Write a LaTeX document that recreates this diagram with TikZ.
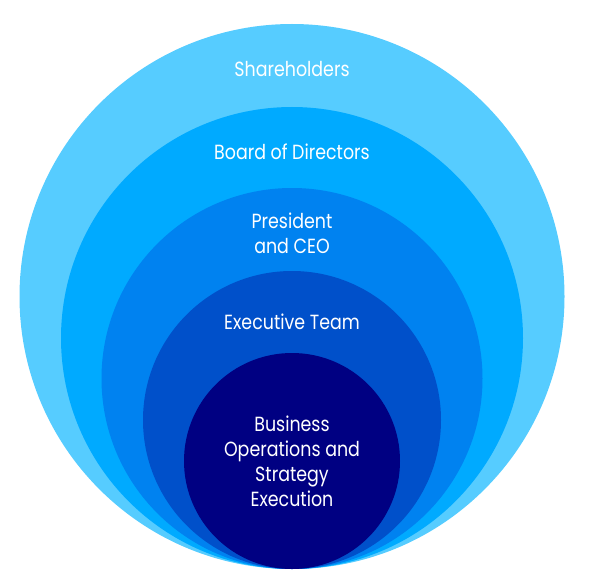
\documentclass[tikz,border=0pt]{standalone}
\usepackage{fontspec}
\setmainfont{Poppins}[FakeStretch=0.85]
\definecolor{ringA}{RGB}{86,204,255}
\definecolor{ringB}{RGB}{0,170,255}
\definecolor{ringC}{RGB}{0,130,240}
\definecolor{ringD}{RGB}{0,80,202}
\definecolor{ringE}{RGB}{0,0,130}
\begin{document}
\begin{tikzpicture}[x=1pt,y=-1pt,
  ring/.style={circle,inner sep=0pt,draw=none,minimum size=#1},
  lbl/.style={text=white,align=center,font=\fontsize{20.5}{25}\selectfont,anchor=base,inner sep=0pt}]
\useasboundingbox (0,0) rectangle (589,583);
\node[ring=545pt,fill=ringA] (shareholders) at (292,296.5) {};
\node[ring=462pt,fill=ringB] (board) at (292,338) {};
\node[ring=381pt,fill=ringC] (ceo) at (292,378.5) {};
\node[ring=298pt,fill=ringD] (team) at (292,420) {};
\node[ring=216pt,fill=ringE] (ops) at (292,461) {};
\node[lbl] (tA) at (292,77) {Shareholders};
\node[lbl] (tB) at (292,160) {Board of Directors};
\node[lbl] (tC) at (292,253) {President\\and CEO};
\node[lbl] (tD) at (292,329) {Executive Team};
\node[lbl] (tE) at (292,506) {Business\\Operations and\\Strategy\\Execution};
\end{tikzpicture}
\end{document}
